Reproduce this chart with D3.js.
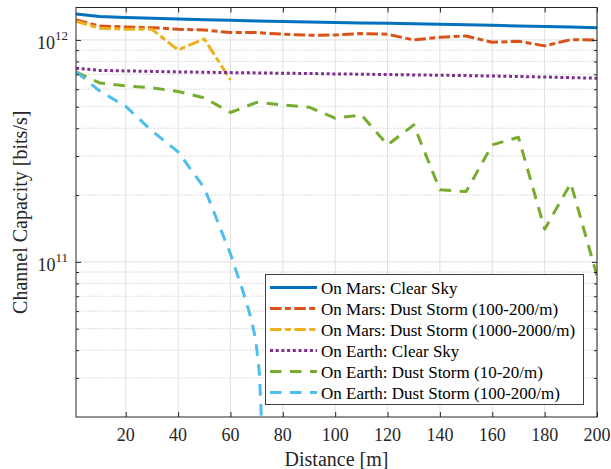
<!DOCTYPE html>
<html>
<head>
<meta charset="utf-8">
<script src="https://cdn.jsdelivr.net/npm/d3@7"></script>
<style>
  html, body { margin: 0; padding: 0; background: #fff; }
  svg { display: block; font-family: "Liberation Serif", "Times New Roman", serif; }
</style>
</head>
<body>
<svg id="chart" width="611" height="469"></svg>
<script>
// Distance samples [m]
const distance = [1, 10, 20, 30, 40, 50, 60, 70, 80, 90, 100, 110, 120, 130, 140, 150, 160, 170, 180, 190, 200];
const distanceMarsHeavy = [1, 10, 20, 30, 40, 50, 60];
const distanceEarthHeavy = [1, 10, 20, 30, 40, 50, 60, 62, 64, 66, 68, 69, 70, 71, 71.5, 72];

// Channel capacity [bits/s]
const marsClear = [1.310e12, 1.276e12, 1.263e12, 1.252e12, 1.243e12, 1.234e12, 1.226e12, 1.218e12, 1.211e12, 1.205e12, 1.199e12,
                   1.193e12, 1.188e12, 1.182e12, 1.176e12, 1.170e12, 1.164e12, 1.156e12, 1.150e12, 1.144e12, 1.136e12];
const marsDust100 = [1.230e12, 1.156e12, 1.144e12, 1.136e12, 1.117e12, 1.109e12, 1.079e12, 1.079e12, 1.061e12, 1.050e12, 1.053e12,
                     1.068e12, 1.061e12, 1.000e12, 1.028e12, 1.042e12, 0.976e12, 0.987e12, 0.940e12, 1.003e12, 1.000e12];
const marsDust1000 = [1.214e12, 1.129e12, 1.117e12, 1.117e12, 0.901e12, 1.010e12, 0.660e12];
const earthClear = [0.7455e12, 0.7290e12, 0.7252e12, 0.7215e12, 0.7178e12, 0.7155e12, 0.7125e12, 0.7103e12, 0.7080e12, 0.7058e12, 0.7028e12,
                    0.7007e12, 0.6984e12, 0.6955e12, 0.6934e12, 0.6906e12, 0.6877e12, 0.6841e12, 0.6806e12, 0.6764e12, 0.6722e12];
const earthDust10 = [0.7178e12, 0.640e12, 0.621e12, 0.608e12, 0.586e12, 0.548e12, 0.471e12, 0.523e12, 0.510e12, 0.4976e12, 0.4439e12,
                     0.4594e12, 0.3365e12, 0.4142e12, 0.2111e12, 0.2074e12, 0.3365e12, 0.3644e12, 0.1404e12, 0.2262e12, 0.0865e12];
const earthDust100 = [0.720e12, 0.589e12, 0.5017e12, 0.3892e12, 0.3130e12, 0.2154e12, 0.1086e12, 0.0920e12, 0.0788e12, 0.0661e12,
                      0.0548e12, 0.0484e12, 0.0410e12, 0.0320e12, 0.0239e12, 0.0175e12];

// Axis ticks
const xTicks = [20, 40, 60, 80, 100, 120, 140, 160, 180, 200];
const yMajorTicks = [1e11, 1e12];
const yMajorExponents = ["11", "12"];
const yMinorTicks = [3e10, 4e10, 5e10, 6e10, 7e10, 8e10, 9e10, 2e11, 3e11, 4e11, 5e11, 6e11, 7e11, 8e11, 9e11];

const seriesNames = [
  "On Mars: Clear Sky",
  "On Mars: Dust Storm (100-200/m)",
  "On Mars: Dust Storm (1000-2000/m)",
  "On Earth: Clear Sky",
  "On Earth: Dust Storm (10-20/m)",
  "On Earth: Dust Storm (100-200/m)"
];

const series = [
  { name: seriesNames[0], x: distance, y: marsClear, color: "#0072BD", dash: null, cap: "butt" },
  { name: seriesNames[1], x: distance, y: marsDust100, color: "#D95319", dash: "11.5,3.4,6,3.4", cap: "butt" },
  { name: seriesNames[2], x: distanceMarsHeavy, y: marsDust1000, color: "#EDB120", dash: "11.5,3.4,6,3.4", cap: "butt" },
  { name: seriesNames[3], x: distance, y: earthClear, color: "#7E2F8E", dash: "3,2.7", cap: "butt" },
  { name: seriesNames[4], x: distance, y: earthDust10, color: "#77AC30", dash: "11.5,8.5", cap: "butt" },
  { name: seriesNames[5], x: distanceEarthHeavy, y: earthDust100, color: "#4DBEEE", dash: "11.5,8.5", cap: "butt" }
];

const margin = { left: 76, right: 597, top: 7.5, bottom: 417 };
const svg = d3.select("#chart");

const x = d3.scaleLinear().domain([1, 200]).range([margin.left, margin.right]);
const y = d3.scaleLog().domain([2e10, 1.4e12]).range([margin.bottom, margin.top]);

const axisColor = "#262626";

// Grid: minor (dotted) and major (solid)
const grid = svg.append("g");
grid.selectAll("line.ymin").data(yMinorTicks).join("line")
  .attr("x1", margin.left).attr("x2", margin.right)
  .attr("y1", d => y(d)).attr("y2", d => y(d))
  .attr("stroke", "#c8c8c8").attr("stroke-width", 0.8).attr("stroke-dasharray", "1.5,1.5");
grid.selectAll("line.ymaj").data(yMajorTicks).join("line")
  .attr("x1", margin.left).attr("x2", margin.right)
  .attr("y1", d => y(d)).attr("y2", d => y(d))
  .attr("stroke", "#e0e0e0").attr("stroke-width", 1);
grid.selectAll("line.xmaj").data(xTicks).join("line")
  .attr("x1", d => x(d)).attr("x2", d => x(d))
  .attr("y1", margin.top).attr("y2", margin.bottom)
  .attr("stroke", "#e0e0e0").attr("stroke-width", 1);

// Data lines
svg.append("clipPath").attr("id", "plotClip").append("rect")
  .attr("x", margin.left).attr("y", margin.top)
  .attr("width", margin.right - margin.left).attr("height", margin.bottom - margin.top);

const line = d3.line().x(d => x(d[0])).y(d => y(d[1]));
const lines = svg.append("g").attr("clip-path", "url(#plotClip)");
series.forEach(s => {
  lines.append("path")
    .datum(s.x.map((d, i) => [d, s.y[i]]))
    .attr("d", line)
    .attr("fill", "none")
    .attr("stroke", s.color)
    .attr("stroke-width", 3)
    .attr("stroke-linejoin", "round")
    .attr("stroke-linecap", s.cap)
    .attr("stroke-dasharray", s.dash);
});

// Axes box with inward ticks
const axes = svg.append("g");
axes.append("rect")
  .attr("x", margin.left).attr("y", margin.top)
  .attr("width", margin.right - margin.left).attr("height", margin.bottom - margin.top)
  .attr("fill", "none").attr("stroke", axisColor).attr("stroke-width", 1);

const xAxisBottom = d3.axisBottom(x).tickValues(xTicks).tickSize(-5).tickFormat("");
const xAxisTop = d3.axisTop(x).tickValues(xTicks).tickSize(-5).tickFormat("");
axes.append("g").attr("transform", `translate(0,${margin.bottom})`).call(xAxisBottom);
axes.append("g").attr("transform", `translate(0,${margin.top})`).call(xAxisTop);

const yMajL = d3.axisLeft(y).tickValues(yMajorTicks).tickSize(-5).tickFormat("");
const yMajR = d3.axisRight(y).tickValues(yMajorTicks).tickSize(-5).tickFormat("");
const yMinL = d3.axisLeft(y).tickValues(yMinorTicks).tickSize(-3).tickFormat("");
const yMinR = d3.axisRight(y).tickValues(yMinorTicks).tickSize(-3).tickFormat("");
axes.append("g").attr("transform", `translate(${margin.left},0)`).call(yMajL);
axes.append("g").attr("transform", `translate(${margin.right},0)`).call(yMajR);
axes.append("g").attr("transform", `translate(${margin.left},0)`).call(yMinL);
axes.append("g").attr("transform", `translate(${margin.right},0)`).call(yMinR);
axes.selectAll(".domain").remove();
axes.selectAll(".tick line").attr("stroke", axisColor).attr("stroke-width", 1);

// Tick labels
svg.append("g").selectAll("text").data(xTicks).join("text")
  .attr("x", d => x(d)).attr("y", 441)
  .attr("text-anchor", "middle")
  .attr("font-size", 18).attr("fill", "#262626")
  .text(d => d);

const yLab = svg.append("g").selectAll("text").data(yMajorTicks).join("text")
  .attr("x", 68).attr("y", d => y(d) + 9)
  .attr("text-anchor", "end")
  .attr("font-size", 18).attr("fill", "#262626");
yLab.append("tspan").text("10");
yLab.append("tspan").attr("font-size", 13).attr("dy", -9).text((d, i) => yMajorExponents[i]);

// Axis titles
svg.append("text")
  .attr("x", (margin.left + margin.right) / 2).attr("y", 466)
  .attr("text-anchor", "middle").attr("font-size", 20).attr("fill", "#262626")
  .text("Distance [m]");
svg.append("text")
  .attr("transform", `translate(27,${(margin.top + margin.bottom) / 2}) rotate(-90)`)
  .attr("text-anchor", "middle").attr("font-size", 20).attr("fill", "#262626")
  .text("Channel Capacity [bits/s]");

// Legend
const legend = svg.append("g");
legend.append("rect")
  .attr("x", 265.5).attr("y", 274.5).attr("width", 318).attr("height", 130)
  .attr("fill", "#fff").attr("stroke", "#404040").attr("stroke-width", 1);
series.forEach((s, i) => {
  const cy = 287.5 + i * 21;
  legend.append("line")
    .attr("x1", 270).attr("x2", 317).attr("y1", cy).attr("y2", cy)
    .attr("stroke", s.color).attr("stroke-width", 3)
    .attr("stroke-dasharray", s.dash);
  legend.append("text")
    .attr("x", 321).attr("y", cy + 6)
    .attr("font-size", 17).attr("fill", "#000")
    .text(s.name);
});
</script>
</body>
</html>
